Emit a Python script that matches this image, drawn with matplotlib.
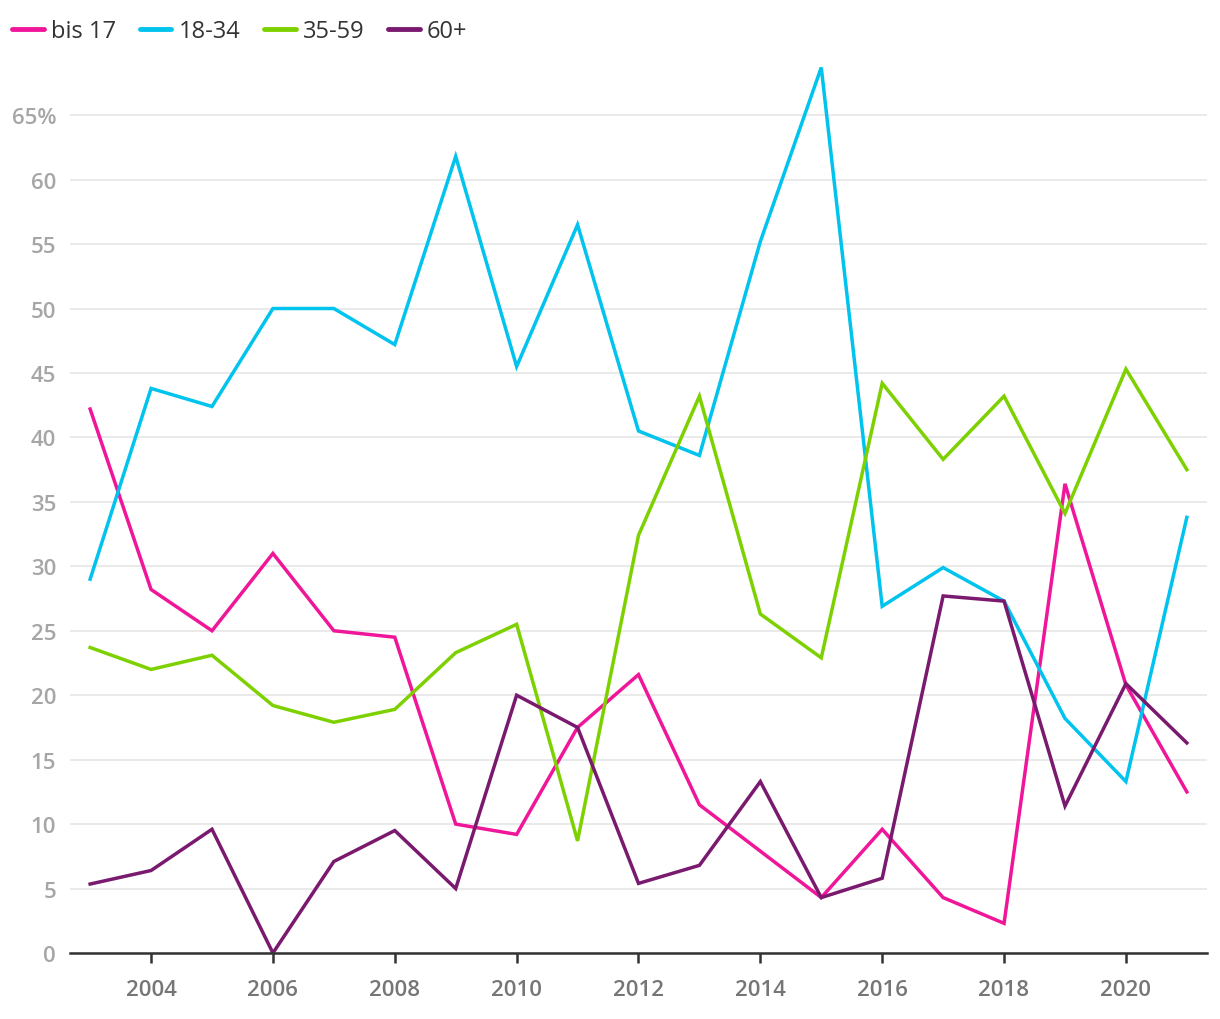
import matplotlib
matplotlib.use("Agg")
import matplotlib.pyplot as plt
from matplotlib.ticker import FixedLocator, FuncFormatter

plt.rcParams['font.family'] = ['Open Sans', 'DejaVu Sans']

years = list(range(2003, 2022))
bis17 = [42.2, 28.2, 25.0, 31.0, 25.0, 24.5, 10.0, 9.2, 17.5, 21.6, 11.5, 7.9, 4.3, 9.6, 4.3, 2.3, 36.4, 20.8, 12.5]
a18_34 = [29.0, 43.8, 42.4, 50.0, 50.0, 47.2, 61.8, 45.5, 56.5, 40.5, 38.6, 55.2, 68.7, 26.9, 29.9, 27.3, 18.2, 13.3, 33.8]
a35_59 = [23.7, 22.0, 23.1, 19.2, 17.9, 18.9, 23.3, 25.5, 8.7, 32.4, 43.2, 26.3, 22.9, 44.2, 38.3, 43.2, 34.1, 45.3, 37.5]
a60 = [5.35, 6.4, 9.6, 0.0, 7.1, 9.5, 5.0, 20.0, 17.5, 5.4, 6.8, 13.3, 4.3, 5.8, 27.7, 27.3, 11.4, 20.9, 16.3]

series = [("bis 17", bis17, "#f0169a"), ("18-34", a18_34, "#00c3ee"),
          ("35-59", a35_59, "#7ed100"), ("60+", a60, "#7a1a6e")]

fig = plt.figure(figsize=(12.2, 10.2), dpi=100)
ax = fig.add_axes([0.0574, 0.0647, 0.9319, 0.8846])

for name, vals, col in series:
    ax.plot(years, vals, color=col, lw=2.5, label=name, solid_joinstyle='miter')

ax.set_xlim(2002.67, 2021.33)
ax.set_ylim(0, 70)
ax.yaxis.set_major_locator(FixedLocator(list(range(0, 70, 5))))
ax.yaxis.set_major_formatter(FuncFormatter(lambda v, p: f"{int(v)}%" if v == 65 else f"{int(v)}"))
ax.xaxis.set_major_locator(FixedLocator(list(range(2004, 2022, 2))))
ax.grid(axis='y', color='#e6e6e6', lw=1.2)
ax.set_axisbelow(True)
for s in ['top', 'right', 'left']:
    ax.spines[s].set_visible(False)
ax.spines['bottom'].set_color('#333333')
ax.spines['bottom'].set_linewidth(1.8)
ax.tick_params(axis='y', length=0, pad=10, labelsize=16, labelcolor='#a6a6a6')
ax.tick_params(axis='x', length=7, width=1.8, color='#333333', pad=12, labelsize=16, labelcolor='#767676')
for lab in ax.get_xticklabels() + ax.get_yticklabels():
    lab.set_fontweight('semibold')

leg = fig.legend(loc='upper left', bbox_to_anchor=(0.0, 0.992), ncol=4, frameon=False,
                 fontsize=17, handlelength=1.35, handletextpad=0.3, columnspacing=1.0,
                 labelcolor='#333333', borderaxespad=0.2, borderpad=0.3)
for h in leg.get_lines():
    h.set_linewidth(3.5)
    h.set_solid_capstyle('round')
for t in leg.get_texts():
    t.set_fontweight('medium')

fig.savefig("out.png", dpi=100)
